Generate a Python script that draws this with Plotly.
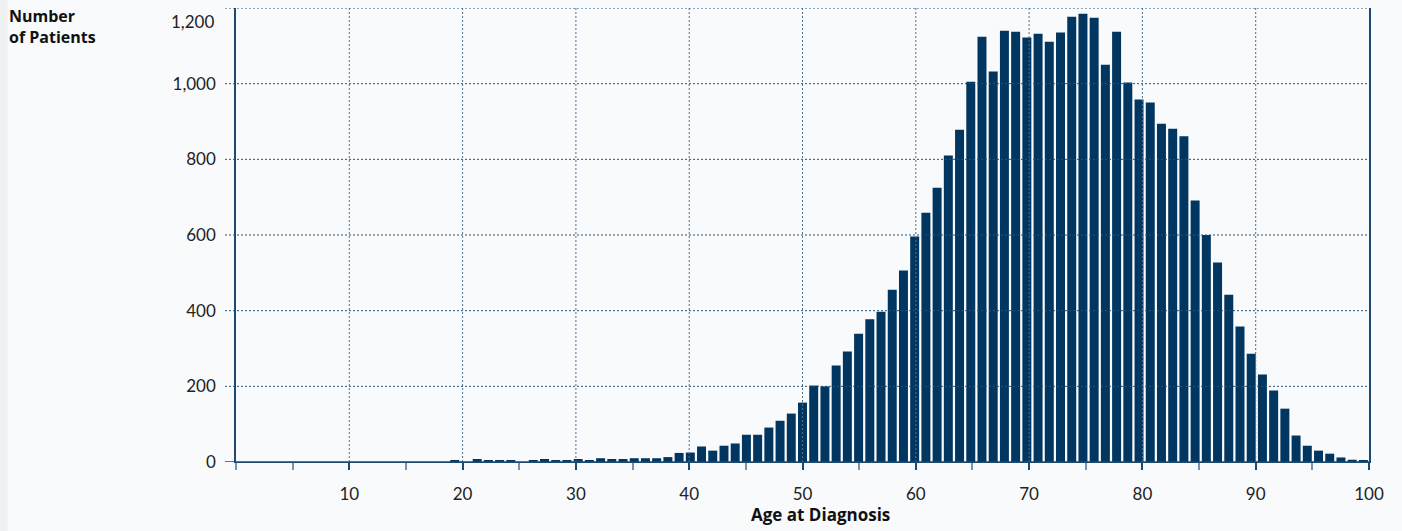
import plotly.graph_objects as go

# ---- data ----
ages = list(range(0, 101))
patients = [
    0, 0, 0, 0, 0, 0, 0, 0, 0, 0,          # 0-9
    0, 0, 0, 0, 0, 0, 0, 0, 0, 5,          # 10-19
    0, 8, 5, 5, 5, 0, 5, 8, 5, 5,          # 20-29
    8, 5, 10, 8, 8, 10, 10, 10, 13, 24,    # 30-39
    25, 41, 30, 43, 49, 72, 72, 91, 109, 128,   # 40-49
    157, 202, 200, 255, 292, 339, 377, 397, 455, 506,  # 50-59
    596, 659, 725, 810, 878, 1005, 1124, 1032, 1140, 1137,  # 60-69
    1122, 1132, 1111, 1135, 1177, 1185, 1174, 1050, 1137, 1003,  # 70-79
    958, 950, 894, 881, 861, 691, 600, 527, 442, 358,  # 80-89
    286, 231, 189, 141, 70, 43, 30, 22, 12, 6,  # 90-99
    4,  # 100
]
x_tick_vals = [10, 20, 30, 40, 50, 60, 70, 80, 90, 100]
x_grid_vals = [10, 20, 30, 40, 50, 60, 70, 80, 90]
y_tick_vals = [0, 200, 400, 600, 800, 1000, 1200]
y_tick_text = ["0", "200", "400", "600", "800", "1,000", "1,200"]
x_title = "Age at Diagnosis"
y_title = "Number<br>of Patients"

BAR = "#003660"
AXIS = "#1d4a6e"
GRID_H = "#24527a"
GRID_V = "#4b7192"
BG = "#f8fafc"
FONT = "Lato"
TITLE_FONT = "Open Sans"
TICK_COLOR = "#222222"

fig = go.Figure()
fig.add_trace(go.Bar(
    x=ages, y=patients, xaxis="x2", yaxis="y",
    marker=dict(color=BAR, line=dict(width=0)), width=0.8,
    hoverinfo="x+y", showlegend=False,
))

shapes = []
# left strip
shapes.append(dict(type="rect", xref="paper", yref="paper",
                   x0=-0.2085, x1=-0.2015, y0=-0.2, y1=1.1,
                   fillcolor="#eef2f5", line=dict(width=0), layer="below"))
# horizontal gridlines (above bars)
for v in y_tick_vals[1:]:
    shapes.append(dict(type="line", xref="x domain", yref="y",
                       x0=-0.0097, x1=1, y0=v, y1=v,
                       line=dict(color=GRID_H, width=1, dash="2px,2px"), layer="above"))
# vertical gridlines
for v in x_grid_vals:
    shapes.append(dict(type="line", xref="x", yref="y domain",
                       x0=v, x1=v, y0=0, y1=1,
                       line=dict(color=GRID_V, width=1, dash="2px,2px"), layer="above"))
# baseline
shapes.append(dict(type="line", xref="x domain", yref="y",
                   x0=-0.0097, x1=1, y0=0, y1=0,
                   line=dict(color=AXIS, width=1.5), layer="above"))

annotations = [
    dict(text=y_title, xref="paper", yref="paper", x=-0.2022, y=1.01,
         xanchor="left", yanchor="top", align="left", showarrow=False,
         font=dict(family=TITLE_FONT, size=16, color="#111111", weight="bold")),
    dict(text=x_title, xref="paper", yref="paper", x=0.516, y=-0.116,
         xanchor="center", yanchor="middle", showarrow=False,
         font=dict(family=TITLE_FONT, size=17, color="#111111", weight="bold")),
    # top tick label, nudged down below the top edge as in the reference
    dict(text=y_tick_text[-1], xref="paper", yref="y", x=-0.0175, y=y_tick_vals[-1],
         xanchor="right", yanchor="middle", yshift=-13, showarrow=False,
         font=dict(family=FONT, size=17, color=TICK_COLOR)),
]

fig.update_layout(
    width=1402, height=531,
    margin=dict(l=236, r=33, t=8, b=69, autoexpand=False),
    paper_bgcolor=BG, plot_bgcolor=BG,
    font=dict(family=FONT, size=17, color=TICK_COLOR),
    bargap=0.2,
    shapes=shapes,
    annotations=annotations,
    xaxis=dict(
        range=[0, 100], tickvals=x_tick_vals, ticktext=[str(v) for v in x_tick_vals],
        showgrid=False, zeroline=False, showline=True, linecolor=AXIS, linewidth=1,
        ticks="outside", ticklen=7, tickcolor=AXIS, tickwidth=1.5,
        ticklabelstandoff=10, automargin=False, ticklabeloverflow="allow",
        minor=dict(dtick=5, tick0=0, ticks="outside", ticklen=7, tickcolor="#7894ad",
                   tickwidth=1.5, showgrid=False),
        tickfont=dict(size=17, color=TICK_COLOR),
        layer="above traces", fixedrange=True,
    ),
    xaxis2=dict(
        range=[-0.5, 100.5], overlaying="x", anchor="y", visible=False, fixedrange=True,
    ),
    yaxis=dict(
        range=[0, 1200], tickvals=y_tick_vals[:-1], ticktext=y_tick_text[:-1],
        showgrid=False, zeroline=False, showline=True, mirror=True,
        linecolor=AXIS, linewidth=1.5,
        ticks="outside", ticklen=11, tickcolor="rgba(0,0,0,0)",
        ticklabelstandoff=4, ticklabeloverflow="allow", automargin=False,
        tickfont=dict(size=17, color=TICK_COLOR),
        layer="above traces", fixedrange=True,
    ),
)

fig.write_html("out.html")
